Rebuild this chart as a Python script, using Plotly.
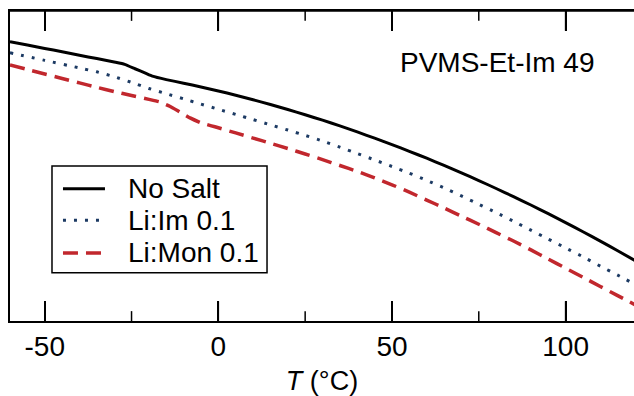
import plotly.graph_objects as go

# Temperature (°C) and curve heights (arbitrary units)
T_no_salt = [-60, -55, -50, -45, -40, -35, -30, -27, -24, -21, -19, -15, -10, -5, 0,
             5, 10, 15, 20, 25, 30, 35, 40, 45, 50, 55, 60, 65, 70, 75, 80, 85, 90, 95, 100, 105, 110, 115, 120]
Y_no_salt = [283, 279.6, 276.1, 272.7, 269.2, 265.8, 262.3, 260, 255.5, 251, 248, 244.5, 240.9, 237.1, 233,
             228.7, 224.1, 219.3, 214.2, 208.9, 203.4, 197.6, 191.5, 185.2, 178.7, 171.9, 164.9, 157.6, 150,
             142.3, 134.2, 126, 117.5, 108.7, 99.7, 90.4, 80.9, 71.2, 61.2]

T_li_im = [-60, -50, -40, -35, -30, -25, -20, -15, -10, -5, 0,
           5, 10, 15, 20, 25, 30, 35, 40, 45, 50, 55, 60, 65, 70, 75, 80, 85, 90, 95, 100, 105, 110, 115, 120]
Y_li_im = [271.7, 264, 256.3, 252.4, 247.5, 241.7, 235.5, 230.2, 225, 219.7, 214.5,
           209.2, 204, 198.7, 193.4, 188, 182.3, 176.1, 169.6, 163.2, 156.5, 149.7, 142.5, 134.8, 126.7,
           118.3, 109.8, 101, 92, 83, 74, 65, 55.5, 46.5, 37]

T_li_mon = [-60, -55, -50, -45, -40, -35, -30, -25, -20, -17, -14, -11, -8, -5, -2, 0,
            5, 10, 15, 20, 25, 30, 35, 40, 45, 50, 55, 60, 65, 70, 75, 80, 85, 90, 95, 100, 105, 110, 115, 120]
Y_li_mon = [259.3, 254.8, 250.2, 245.7, 241.2, 236.7, 232.4, 228.4, 224.5, 222, 217.5, 211.5, 205.5, 200.7, 197.7, 195.7,
            190.5, 185.3, 180, 174.7, 169.2, 163.5, 157.5, 151.5, 145, 138, 130.5, 122.5, 114.5, 106.2,
            98, 89.5, 81, 72, 62.8, 53.5, 44.3, 35, 25.7, 16.5]

x_ticks = [-50, 0, 50, 100]
x_tick_labels = ["-50", "0", "50", "100"]
x_minor_ticks = [-25, 25, 75]
series_names = ["No Salt", "Li:Im 0.1", "Li:Mon 0.1"]
sample_label = "PVMS-Et-Im 49"

FONT = "Liberation Sans, Arial, sans-serif"
X_RANGE = [-60, 119.7]
Y_RANGE = [0, 314]
AXIS_W = 1.5
MAJOR_LEN = 20
MINOR_LEN = 10

styles = [
    dict(color="black", width=3, dash="solid"),
    dict(color="#1c3a63", width=3, dash="3px,8px"),
    dict(color="#c1272d", width=3.5, dash="15px,8px"),
]
series = [(T_no_salt, Y_no_salt), (T_li_im, Y_li_im), (T_li_mon, Y_li_mon)]

fig = go.Figure()
for (xs, ys), name, st in zip(series, series_names, styles):
    fig.add_trace(go.Scatter(x=xs, y=ys, mode="lines", name=name, showlegend=False,
                             line=dict(color=st["color"], width=st["width"], dash=st["dash"],
                                       shape="spline", smoothing=0.4)))

# inward ticks on bottom and top edges, placed through the x axis scale
ph = Y_RANGE[1] - Y_RANGE[0]
for vals, length in [(x_ticks, MAJOR_LEN), (x_minor_ticks, MINOR_LEN)]:
    for v in vals:
        fig.add_shape(type="line", xref="x", x0=v, x1=v, yref="paper", y0=0, y1=length / ph,
                      line=dict(color="black", width=AXIS_W), layer="above")
        fig.add_shape(type="line", xref="x", x0=v, x1=v, yref="paper", y0=1, y1=1 - length / ph,
                      line=dict(color="black", width=AXIS_W), layer="above")
fig.add_shape(type="line", xref="paper", yref="paper", x0=0, x1=1, y0=1, y1=1,
              line=dict(color="black", width=AXIS_W), layer="above")

# manual legend (box, samples, labels)
leg_x0, leg_x1, leg_y0, leg_y1 = 0.0673, 0.4119, 0.156, 0.5
row_y = [0.4268, 0.3248, 0.2197]
fig.add_shape(type="rect", xref="paper", yref="paper", x0=leg_x0, x1=leg_x1, y0=leg_y0, y1=leg_y1,
              line=dict(color="black", width=AXIS_W), fillcolor="white", layer="above")
for name, st, ry in zip(series_names, styles, row_y):
    fig.add_shape(type="line", xref="paper", yref="paper", x0=0.0849, x1=0.1522, y0=ry, y1=ry,
                  line=dict(color=st["color"], width=st["width"], dash=st["dash"]), layer="above")
    fig.add_annotation(text=name, xref="paper", yref="paper", x=0.1860, y=ry, showarrow=False,
                       xanchor="left", yanchor="middle", font=dict(family=FONT, size=28, color="black"))

fig.add_annotation(text=sample_label, x=0.78, y=0.834, xref="paper", yref="paper",
                   showarrow=False, xanchor="center", yanchor="middle",
                   font=dict(family=FONT, size=28, color="black"))

fig.update_layout(
    width=634, height=396,
    margin=dict(l=10, r=0, t=11, b=71),
    paper_bgcolor="white", plot_bgcolor="white",
    font=dict(family=FONT, color="black"),
    showlegend=False,
    xaxis=dict(range=X_RANGE, tickmode="array", tickvals=x_ticks, ticktext=x_tick_labels,
               ticks="inside", ticklen=MAJOR_LEN, tickwidth=AXIS_W, tickcolor="black",
               showline=True, linecolor="black", linewidth=AXIS_W, mirror="ticks",
               showgrid=False, zeroline=False,
               tickfont=dict(family=FONT, size=28),
               title=dict(text="<i>T</i> (°C)", font=dict(family=FONT, size=27))),
    yaxis=dict(range=Y_RANGE, showticklabels=False, ticks="", showgrid=False, zeroline=False,
               showline=True, linecolor="black", linewidth=AXIS_W, mirror=False),
)

fig.write_html("out.html")
